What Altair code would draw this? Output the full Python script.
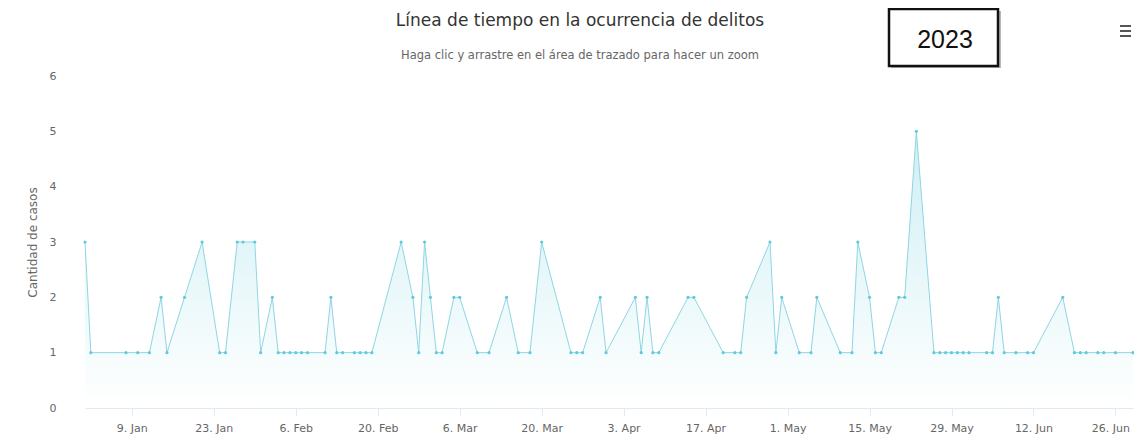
import altair as alt
import pandas as pd

# ---- data ----
fechas = [
    "2023-01-01", "2023-01-02", "2023-01-08", "2023-01-10", "2023-01-12", "2023-01-14",
    "2023-01-15", "2023-01-18", "2023-01-21", "2023-01-24", "2023-01-25", "2023-01-27",
    "2023-01-28", "2023-01-30", "2023-01-31", "2023-02-02", "2023-02-03", "2023-02-04",
    "2023-02-05", "2023-02-06", "2023-02-07", "2023-02-08", "2023-02-11", "2023-02-12",
    "2023-02-13", "2023-02-14", "2023-02-16", "2023-02-17", "2023-02-18", "2023-02-19",
    "2023-02-24", "2023-02-26", "2023-02-27", "2023-02-28", "2023-03-01", "2023-03-02",
    "2023-03-03", "2023-03-05", "2023-03-06", "2023-03-09", "2023-03-11", "2023-03-14",
    "2023-03-16", "2023-03-18", "2023-03-20", "2023-03-25", "2023-03-26", "2023-03-27",
    "2023-03-30", "2023-03-31", "2023-04-05", "2023-04-06", "2023-04-07", "2023-04-08",
    "2023-04-09", "2023-04-14", "2023-04-15", "2023-04-20", "2023-04-22", "2023-04-23",
    "2023-04-24", "2023-04-28", "2023-04-29", "2023-04-30", "2023-05-03", "2023-05-05",
    "2023-05-06", "2023-05-10", "2023-05-12", "2023-05-13", "2023-05-15", "2023-05-16",
    "2023-05-17", "2023-05-20", "2023-05-21", "2023-05-23", "2023-05-26", "2023-05-27",
    "2023-05-28", "2023-05-29", "2023-05-30", "2023-05-31", "2023-06-01", "2023-06-04",
    "2023-06-05", "2023-06-06", "2023-06-07", "2023-06-09", "2023-06-11", "2023-06-12",
    "2023-06-17", "2023-06-19", "2023-06-20", "2023-06-21", "2023-06-23", "2023-06-24",
    "2023-06-26", "2023-06-29",
]
casos = [
    3, 1, 1, 1, 1, 2,
    1, 2, 3, 1, 1, 3,
    3, 3, 1, 2, 1, 1,
    1, 1, 1, 1, 1, 2,
    1, 1, 1, 1, 1, 1,
    3, 2, 1, 3, 2, 1,
    1, 2, 2, 1, 1, 2,
    1, 1, 3, 1, 1, 1,
    2, 1, 2, 1, 2, 1,
    1, 2, 2, 1, 1, 1,
    2, 3, 1, 2, 1, 1,
    2, 1, 1, 3, 2, 1,
    1, 2, 2, 5, 1, 1,
    1, 1, 1, 1, 1, 1,
    1, 2, 1, 1, 1, 1,
    2, 1, 1, 1, 1, 1,
    1, 1,
]
tick_fechas = [
    "2023-01-09", "2023-01-23", "2023-02-06", "2023-02-20", "2023-03-06", "2023-03-20",
    "2023-04-03", "2023-04-17", "2023-05-01", "2023-05-15", "2023-05-29", "2023-06-12",
    "2023-06-26",
]
dominio_x = ["2023-01-01", "2023-06-29"]
y_ticks = [0, 1, 2, 3, 4, 5, 6]

titulo = "Línea de tiempo en la ocurrencia de delitos"
subtitulo = "Haga clic y arrastre en el área de trazado para hacer un zoom"
etiqueta_anio = "2023"
titulo_y = "Cantidad de casos"


def ms(s):
    return int(pd.Timestamp(s, tz="UTC").timestamp() * 1000)


df = pd.DataFrame({"fecha": [ms(f) for f in fechas], "casos": casos})

W, H = 1048, 332
FONT = "DejaVu Sans"
ultimo_tick = ms(tick_fechas[-1])

x_enc = alt.X(
    "fecha:T",
    scale=alt.Scale(type="utc", domain=[ms(d) for d in dominio_x], nice=False),
    axis=alt.Axis(
        values=[ms(t) for t in tick_fechas],
        labelExpr="utcFormat(datum.value, '%-d. %b')",
        title=None,
        grid=False,
        domainColor="#e3e9f3",
        tickColor="#e3e9f3",
        tickSize=8,
        labelColor="#666666",
        labelFont=FONT,
        labelFontSize=11,
        labelPadding=6,
        labelFlush=False,
        labelOffset={"condition": {"test": f"datum.value >= {ultimo_tick}", "value": -5}, "value": 0},
    ),
)
y_enc = alt.Y(
    "casos:Q",
    scale=alt.Scale(domain=[0, 6], nice=False),
    axis=alt.Axis(
        values=y_ticks,
        title=titulo_y,
        titleFont=FONT,
        titleFontSize=12,
        titleFontWeight="normal",
        titleColor="#666666",
        titlePadding=10,
        grid=False,
        domain=False,
        ticks=False,
        labelColor="#666666",
        labelFont=FONT,
        labelFontSize=11,
        labelPadding=29,
    ),
)

base = alt.Chart(df)

area = base.mark_area(
    color=alt.Gradient(
        gradient="linear",
        stops=[
            alt.GradientStop(color="#ffffff", offset=0),
            alt.GradientStop(color="#c3ebf1", offset=1),
        ],
        x1=1, x2=1, y1=1, y2=0,
    ),
    opacity=0.8,
).encode(x=x_enc, y=y_enc)

linea = base.mark_line(color="#8fd6e2", strokeWidth=1).encode(x=x_enc, y=y_enc)
puntos = base.mark_circle(color="#5ccbdc", size=10, opacity=1).encode(x=x_enc, y=y_enc)

ann = alt.Chart(pd.DataFrame({"t": [0]}))

t_titulo = ann.mark_text(
    text=titulo, font=FONT, fontSize=17, color="#333333", align="center", baseline="alphabetic"
).encode(x=alt.value(495), y=alt.value(-50))
t_sub = ann.mark_text(
    text=subtitulo, font=FONT, fontSize=11.5, color="#666666", align="center", baseline="alphabetic"
).encode(x=alt.value(495), y=alt.value(-17))

caja_sombra = ann.mark_rect(fill="#888888", opacity=0.6).encode(
    x=alt.value(806), x2=alt.value(916), y=alt.value(-65), y2=alt.value(-8)
)
caja = ann.mark_rect(fill="#ffffff", stroke="#111111", strokeWidth=2.5).encode(
    x=alt.value(804), x2=alt.value(913), y=alt.value(-67), y2=alt.value(-10)
)
t_anio = ann.mark_text(
    text=etiqueta_anio, font="Liberation Sans", fontSize=25, color="#111111",
    align="center", baseline="middle"
).encode(x=alt.value(860), y=alt.value(-36))

menu = [
    ann.mark_rule(color="#555555", strokeWidth=2).encode(
        x=alt.value(1035), x2=alt.value(1046), y=alt.value(yy)
    )
    for yy in (-50, -45, -40)
]

chart = (
    alt.layer(area, linea, puntos, t_titulo, t_sub, caja_sombra, caja, t_anio, *menu)
    .properties(
        width=W,
        height=H,
        autosize=alt.AutoSizeParams(type="none"),
        padding={"left": 77, "top": 68, "right": 1, "bottom": 30},
        background="#ffffff",
    )
    .configure_view(stroke=None)
)

chart.save("out.html", embed_options={"renderer": "svg", "actions": False})
